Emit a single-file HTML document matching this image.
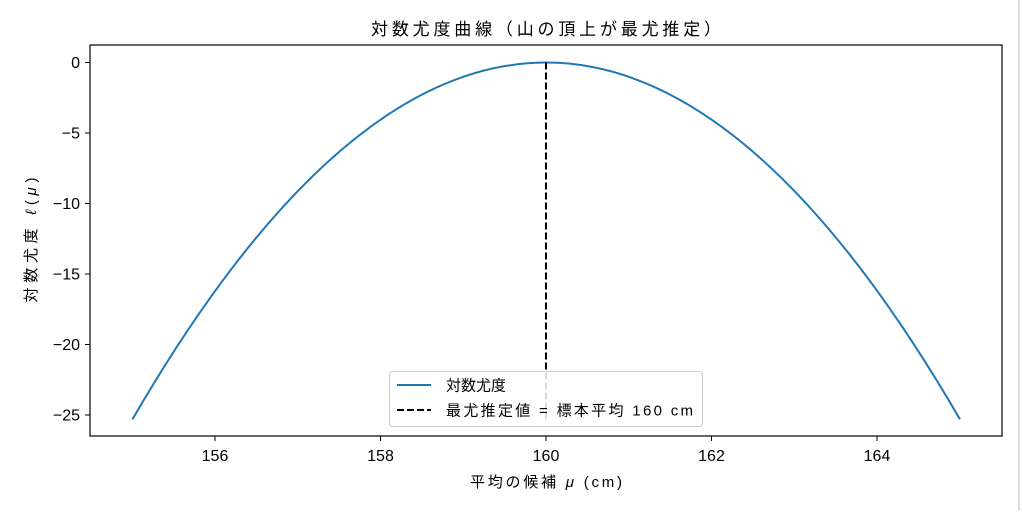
<!DOCTYPE html>
<html><head><meta charset="utf-8"><style>
body{margin:0;background:#fff;}
svg text{font-family:"Liberation Sans","Noto Sans CJK JP",sans-serif;fill:#000;}
</style></head><body>
<svg width="1023" height="511" viewBox="0 0 1023 511" xmlns="http://www.w3.org/2000/svg">
<rect width="1023" height="511" fill="#fff"/>
<line x1="1019" y1="0" x2="1019" y2="511" stroke="#ddd" stroke-width="2"/>
<text x="546" y="35" font-size="17" text-anchor="middle" textLength="350">対数尤度曲線（山の頂上が最尤推定）</text>
<path fill="none" stroke="#1f77b4" stroke-width="2" d="M132.4,419.4 Q546,-294.3 960,419.4"/>
<line x1="546" y1="62.5" x2="546" y2="420" stroke="#000" stroke-width="2" stroke-dasharray="7,3"/>
<rect x="90" y="45" width="912" height="391" fill="none" stroke="#000" stroke-width="1.2"/>
<g stroke="#000" stroke-width="1">
<line x1="215" y1="436" x2="215" y2="441"/><line x1="380.5" y1="436" x2="380.5" y2="441"/>
<line x1="546" y1="436" x2="546" y2="441"/><line x1="711.5" y1="436" x2="711.5" y2="441"/>
<line x1="877" y1="436" x2="877" y2="441"/>
<line x1="85" y1="62.5" x2="90" y2="62.5"/><line x1="85" y1="133" x2="90" y2="133"/>
<line x1="85" y1="203.5" x2="90" y2="203.5"/><line x1="85" y1="274" x2="90" y2="274"/>
<line x1="85" y1="344.5" x2="90" y2="344.5"/><line x1="85" y1="415" x2="90" y2="415"/>
</g>
<g font-size="16" text-anchor="middle">
<text x="215" y="461">156</text><text x="380.5" y="461">158</text><text x="546" y="461">160</text>
<text x="711.5" y="461">162</text><text x="877" y="461">164</text>
</g>
<g font-size="16" text-anchor="end">
<text x="80" y="68">0</text><text x="80" y="138.5">−5</text><text x="80" y="209">−10</text>
<text x="80" y="279.5">−15</text><text x="80" y="350">−20</text><text x="80" y="420.5">−25</text>
</g>
<text x="546" y="487" font-size="15" text-anchor="middle" textLength="152">平均の候補 <tspan font-style="italic">μ</tspan> (cm)</text>
<text transform="translate(36,240) rotate(-90)" font-size="15" text-anchor="middle" textLength="125">対数尤度 <tspan font-style="italic">ℓ</tspan>(<tspan font-style="italic">μ</tspan>)</text>
<rect x="389.5" y="371.5" width="313" height="55" rx="3" fill="#fff" fill-opacity="0.85" stroke="#ccc"/>
<line x1="397" y1="385" x2="431" y2="385" stroke="#1f77b4" stroke-width="2"/>
<line x1="397" y1="410" x2="431" y2="410" stroke="#000" stroke-width="2" stroke-dasharray="7,3"/>
<text x="446" y="390.5" font-size="15">対数尤度</text>
<text x="446" y="415.5" font-size="15" textLength="247">最尤推定値 = 標本平均 160 cm</text>
</svg>
</body></html>
